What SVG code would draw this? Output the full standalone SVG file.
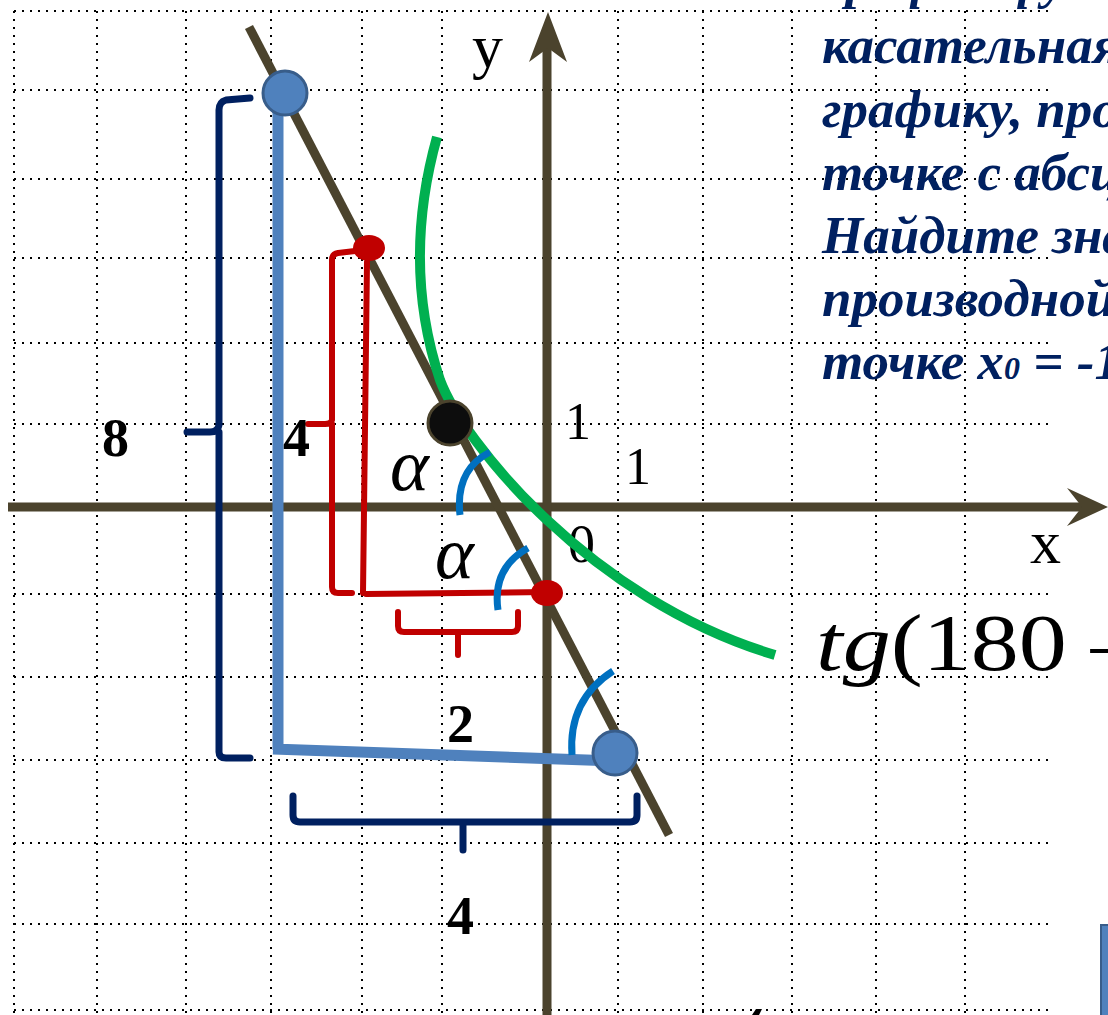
<svg xmlns="http://www.w3.org/2000/svg" width="1108" height="1015" viewBox="0 0 1108 1015">
<style>
.grid{stroke:#000;stroke-width:2;stroke-dasharray:2 6;fill:none}
.axis{stroke:#4b432d;stroke-width:9;fill:none}
.red{stroke:#c00000;stroke-width:6;fill:none;stroke-linecap:round;stroke-linejoin:round}
.navy{stroke:#002060;stroke-width:7;fill:none;stroke-linecap:round;stroke-linejoin:round}
.arc{stroke:#0070c0;stroke-width:7;fill:none}
.bpt{fill:#4f81bd;stroke:#385d8a;stroke-width:3}
.lbl{font-family:"Liberation Serif",serif;fill:#000}
.b{font-weight:bold}
.task{font-family:"Liberation Serif",serif;font-weight:bold;font-style:italic;font-size:53px;fill:#002060}
</style>
<rect width="1108" height="1015" fill="#fff"/>
<g id="grid">
<path class="grid" d="M14,11H1050M14,90H1050M14,179H1050M14,258H1050M14,343H1050M14,424H1050M14,594H1050M14,677H1050M14,760H1050M14,843H1050M14,924H1050M14,1010H1050"/>
<path class="grid" d="M14,11V1015M97,11V1015M186,11V1015M271,11V1015M362,11V1015M442,11V1015M618,11V1015M703,11V1015M792,11V1015M876,11V1015M965,11V1015"/>
</g>
<g id="axes">
<line class="axis" x1="8" y1="507" x2="1085" y2="507"/>
<polygon points="1108,507 1067,488 1082,507 1067,526" fill="#4b432d"/>
<line class="axis" x1="547" y1="1015" x2="547" y2="40"/>
<polygon points="548,12 529,62 548,48 567,62" fill="#4b432d"/>
</g>
<text id="label-0" class="lbl" x="568" y="562" font-size="54">0</text>
<g id="connectors">
<line id="tangent" x1="249" y1="27" x2="669" y2="835" stroke="#4b432d" stroke-width="9"/>
<path id="graph" d="M437,137 C418,205 410,290 440,380 C462,440 590,600 775,655" stroke="#00b050" stroke-width="10" fill="none"/>
<path id="blue-L" d="M278,95V750M273,749L615,761" stroke="#4f81bd" stroke-width="11" fill="none"/>
<path class="red" d="M367,262L363,593M366,594L547,592"/>
<path class="red" d="M355,251L338,253Q332,254 332,260V420Q331,424 325,424H308M332,424V587Q332,593 338,593H352"/>
<path class="red" d="M398,612V626Q398,632 404,632H512Q518,632 518,626V612M458,632V655"/>
<path class="navy" d="M250,98L226,100Q219,102 219,110V425Q218,432 210,432H187M219,432V752Q219,758 226,758H250"/>
<path class="navy" d="M293,796V815Q293,822 300,822H630Q637,822 637,815V796M463,822V850"/>
<path class="arc" d="M490,452Q455,470 460,515"/>
<path class="arc" d="M528,548Q492,568 498,610"/>
<path class="arc" d="M613,671Q568,700 572,755"/>
</g>
<g id="points">
<circle id="p-top" class="bpt" cx="285" cy="93" r="22"/>
<circle id="p-bottom" class="bpt" cx="615" cy="753" r="22"/>
<circle id="p-touch" cx="450" cy="423" r="22" fill="#0d0d0d" stroke="#4b432d" stroke-width="3"/>
<ellipse id="r-top" cx="369" cy="248" rx="16" ry="13" fill="#c00000"/>
<ellipse id="r-bottom" cx="547" cy="593" rx="16" ry="13" fill="#c00000"/>
</g>
<g id="labels">
<text class="lbl" x="472" y="67" font-size="62">y</text>
<text class="lbl" x="1030" y="563" font-size="62">x</text>
<text class="lbl" x="565" y="439" font-size="52">1</text>
<text class="lbl" x="625" y="484" font-size="52">1</text>
<text class="lbl" x="390" y="490" font-size="74" font-style="italic">α</text>
<text class="lbl" x="435" y="578" font-size="74" font-style="italic">α</text>
<text class="lbl b" x="102" y="456" font-size="54">8</text>
<text class="lbl b" x="283" y="456" font-size="54">4</text>
<text class="lbl b" x="447" y="742" font-size="54">2</text>
<text class="lbl b" x="447" y="934" font-size="54">4</text>
<text class="lbl" font-size="80" transform="translate(816,670) scale(1.2,1)"><tspan font-style="italic">tg</tspan>(180 –</text>
</g>
<g id="task">
<text class="task" x="826" y="-2">график функции</text>
<text class="task" x="822" y="63">касательная к</text>
<text class="task" x="822" y="127">графику, проведённая</text>
<text class="task" x="822" y="190">точке с абсциссой</text>
<text class="task" x="822" y="253">Найдите значение</text>
<text class="task" x="822" y="316">производной</text>
<text class="task" x="822" y="379">точке x<tspan font-size="32">0</tspan> = -1.</text>
</g>
<g id="extras">
<rect x="1101" y="925" width="12" height="95" fill="#4f81bd" stroke="#385d8a" stroke-width="2"/>
<polygon points="752,1015 756,1009 762,1009 759,1015" fill="#000"/>
</g>
</svg>
